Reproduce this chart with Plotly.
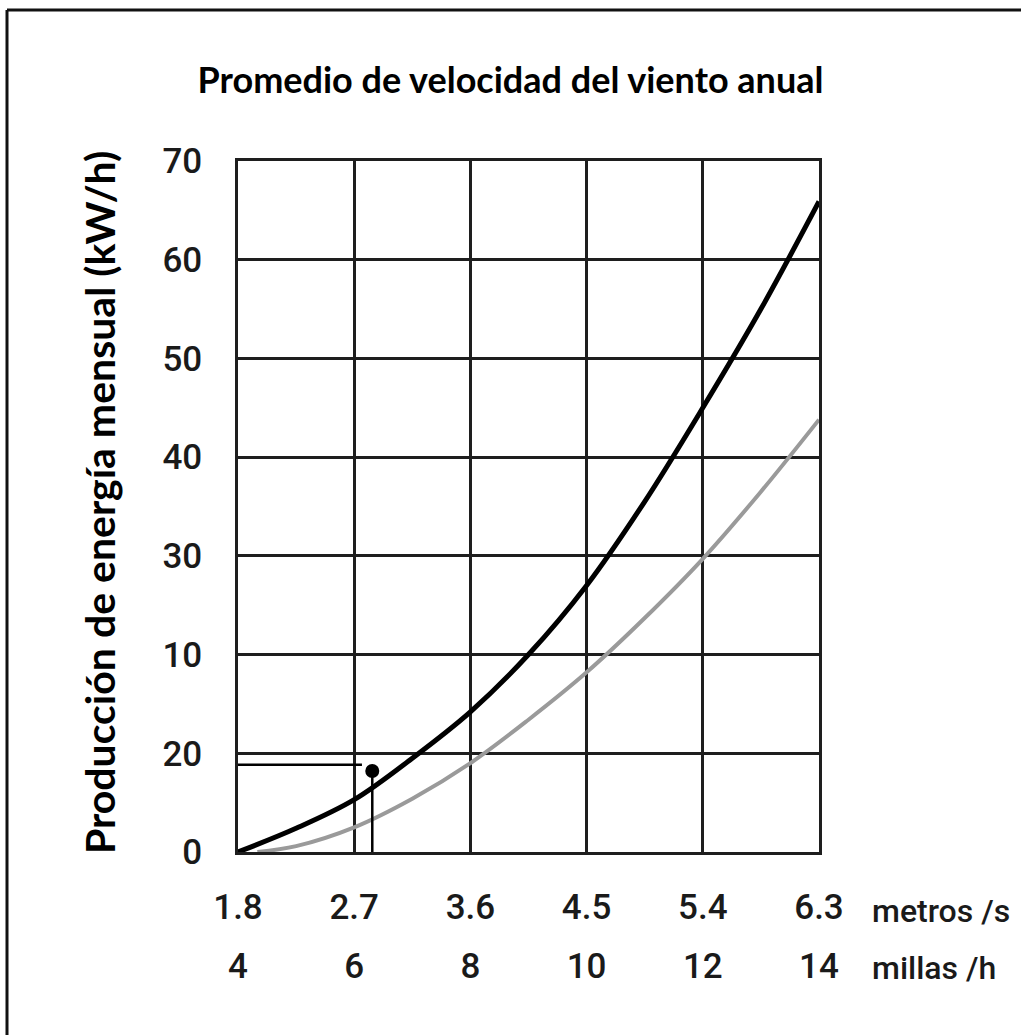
import plotly.graph_objects as go

# ---- data ----
speed_ms = [1.8, 2.25, 2.7, 3.15, 3.6, 4.05, 4.5, 4.95, 5.4, 5.85, 6.3]
energy_black = [0.0, 2.4, 5.3, 9.5, 14.2, 20.0, 27.0, 35.5, 45.0, 55.0, 65.9]
speed_ms_gray = [1.95, 2.25, 2.7, 3.15, 3.6, 4.05, 4.5, 4.95, 5.4, 5.85, 6.3]
energy_gray = [0.0, 0.6, 2.5, 5.4, 9.0, 13.4, 18.2, 23.7, 29.7, 36.5, 43.8]

ms_ticks = [1.8, 2.7, 3.6, 4.5, 5.4, 6.3]
ms_labels = ["1.8", "2.7", "3.6", "4.5", "5.4", "6.3"]
mph_labels = ["4", "6", "8", "10", "12", "14"]
y_ticks = [0, 10, 20, 30, 40, 50, 60, 70]
y_labels = ["0", "20", "10", "30", "40", "50", "60", "70"]

reading_x = 2.84
reading_y = 8.2
guide_y = 8.85
guide_x_end = 2.76

# ---- layout geometry (pixels) ----
W, H = 1021, 1035
L, R, T, B = 238, 819, 161, 852
pw, ph = R - L, B - T


def px_x(x):
    return (x - L) / pw


def px_y(y):
    return (B - y) / ph


NARROW = "Roboto, Liberation Sans, sans-serif"
BOLD = "Lato, Open Sans, sans-serif"
GRID = "#1e1e1e"
TXT = "#1a1a1a"

fig = go.Figure()

fig.add_trace(go.Scatter(x=speed_ms_gray, y=energy_gray, mode="lines",
                         line=dict(color="#9a9a9a", width=4, shape="spline"),
                         hoverinfo="skip", showlegend=False))
fig.add_trace(go.Scatter(x=speed_ms, y=energy_black, mode="lines",
                         line=dict(color="#000000", width=5, shape="spline"),
                         hoverinfo="skip", showlegend=False))
# reading guides
fig.add_trace(go.Scatter(x=[ms_ticks[0], guide_x_end], y=[guide_y, guide_y], mode="lines",
                         line=dict(color="#000000", width=2.5),
                         hoverinfo="skip", showlegend=False))
fig.add_trace(go.Scatter(x=[reading_x, reading_x], y=[y_ticks[0], reading_y], mode="lines",
                         line=dict(color="#000000", width=2.5),
                         hoverinfo="skip", showlegend=False))
fig.add_trace(go.Scatter(x=[reading_x], y=[reading_y], mode="markers",
                         marker=dict(color="#000000", size=14),
                         hoverinfo="skip", showlegend=False))
# second x axis (mph labels)
fig.add_trace(go.Scatter(x=ms_ticks, y=[None] * len(ms_ticks), xaxis="x2", mode="lines",
                         hoverinfo="skip", showlegend=False))

fig.update_layout(
    width=W, height=H,
    margin=dict(l=L, r=W - R, t=T, b=H - B, autoexpand=False),
    paper_bgcolor="white", plot_bgcolor="white",
    title=dict(text="<b>Promedio de velocidad del viento anual</b>",
               x=0.5, xref="container", xanchor="center",
               y=1 - 80 / H, yref="container", yanchor="middle",
               font=dict(family=BOLD, size=36, color="#000")),
    xaxis=dict(range=[ms_ticks[0], ms_ticks[-1]], tickvals=ms_ticks, ticktext=ms_labels,
               showgrid=True, gridcolor=GRID, gridwidth=2.5, zeroline=False,
               showline=True, linecolor=GRID, linewidth=2.5, mirror=True,
               ticks="", ticklabelstandoff=22,
               tickfont=dict(family=NARROW, size=35, color=TXT, weight=500)),
    xaxis2=dict(range=[ms_ticks[0], ms_ticks[-1]], tickvals=ms_ticks, ticktext=mph_labels,
                overlaying="x", side="bottom", anchor="y",
                showgrid=False, zeroline=False, showline=False,
                ticks="", ticklabelstandoff=90,
                tickfont=dict(family=NARROW, size=35, color=TXT, weight=500)),
    yaxis=dict(range=[y_ticks[0], y_ticks[-1]], tickvals=y_ticks, ticktext=y_labels,
               showgrid=True, gridcolor=GRID, gridwidth=2.5, zeroline=False,
               showline=True, linecolor=GRID, linewidth=2.5, mirror=True,
               ticks="", ticklabelstandoff=26,
               tickfont=dict(family=NARROW, size=35, color=TXT, weight=500)),
    annotations=[
        dict(text="<b>Producción de energía mensual (kW/h)</b>", textangle=-90,
             xref="paper", yref="paper", x=px_x(100), y=px_y(503),
             xanchor="center", yanchor="middle", showarrow=False,
             font=dict(family=BOLD, size=41, color="#000")),
        dict(text="metros /s", xref="paper", yref="paper", x=px_x(870), y=px_y(911),
             xanchor="left", yanchor="middle", showarrow=False,
             font=dict(family=NARROW, size=32, color=TXT, weight=500)),
        dict(text="millas /h", xref="paper", yref="paper", x=px_x(870), y=px_y(968),
             xanchor="left", yanchor="middle", showarrow=False,
             font=dict(family=NARROW, size=32, color=TXT, weight=500)),
    ],
    shapes=[
        dict(type="line", xref="paper", yref="paper", x0=px_x(7), x1=px_x(1030),
             y0=px_y(10), y1=px_y(10), line=dict(color="#111", width=3)),
        dict(type="line", xref="paper", yref="paper", x0=px_x(7), x1=px_x(7),
             y0=px_y(10), y1=px_y(1040), line=dict(color="#111", width=3)),
    ],
)

fig.write_html("out.html", config={"displayModeBar": False},
               post_script="document.body.style.margin='0';document.body.style.overflow='hidden';")
